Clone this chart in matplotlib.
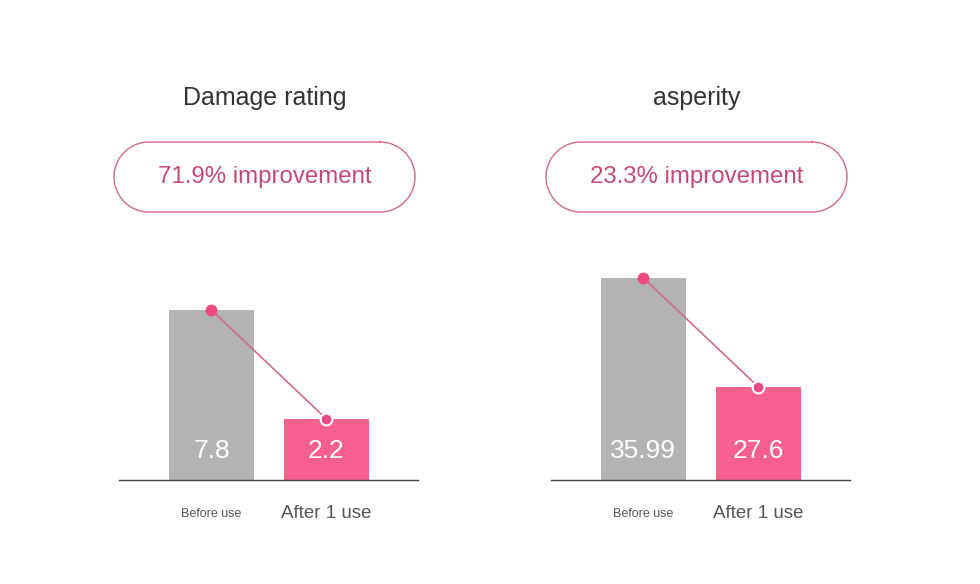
import numpy as np
import matplotlib.pyplot as plt

plt.rcParams['font.family'] = ['Liberation Sans', 'DejaVu Sans']

# --- datos ---
titles = ["Damage rating", "asperity"]
improvements = ["71.9% improvement", "23.3% improvement"]
categories = ["Before use", "After 1 use"]
before_values = [7.8, 35.99]
after_values = [2.2, 27.6]
value_labels = [["7.8", "2.2"], ["35.99", "27.6"]]
# valor en la linea base de cada panel (las barras no empiezan en cero)
axis_floor = [-0.935, 20.44]
px_per_unit = [19.46, 12.99]

# --- estilo ---
GRAY = '#b3b3b3'
PINK = '#f7608c'
DOT = '#f04a80'
LINE = '#cf6a88'
TEXT_PINK = '#c44a76'

W, H = 980, 584
fig = plt.figure(figsize=(W / 100, H / 100), dpi=100)

# capa de fondo en pixeles para titulos y pildoras
bg = fig.add_axes([0, 0, 1, 1])
bg.set_xlim(0, W)
bg.set_ylim(H, 0)
bg.axis('off')


def pill_outline(x0, y0, w, h):
    """Contorno de una pildora (rectangulo con extremos semicirculares)."""
    r = h / 2
    t = np.linspace(-np.pi / 2, np.pi / 2, 60)
    right_x = x0 + w - r + r * np.cos(t)
    right_y = y0 + r + r * np.sin(t)
    left_x = x0 + r - r * np.cos(t)
    left_y = y0 + r - r * np.sin(t)
    xs = np.concatenate([right_x, left_x, right_x[:1]])
    ys = np.concatenate([right_y, left_y, right_y[:1]])
    return xs, ys


panel_left = [119, 551]
panel_width = 299
base_y = 480
axes_h = 230
pill_left = [114, 546]

for i in range(2):
    cx = pill_left[i] + 150.5
    bg.text(cx, 98, titles[i], fontsize=18, color='#333333',
            ha='center', va='center')
    px, py = pill_outline(pill_left[i], 142, 301, 70)
    bg.plot(px, py, color='#d06a8a', lw=1.0)
    bg.text(cx, 177, improvements[i], fontsize=17.3, color=TEXT_PINK,
            ha='center', va='center')

    ax = fig.add_axes([panel_left[i] / W, (H - base_y) / H,
                       panel_width / W, axes_h / H])
    ax.patch.set_alpha(0)
    floor = axis_floor[i]
    ax.set_ylim(floor, floor + axes_h / px_per_unit[i])
    ax.set_xlim(-0.804, 1.796)

    vals = [before_values[i], after_values[i]]
    ax.bar([0, 1], [v - floor for v in vals], bottom=floor, width=0.739,
           color=[GRAY, PINK], zorder=2)
    ax.plot([0, 1], vals, color=LINE, lw=1.2, zorder=3)
    ax.plot(0, vals[0], 'o', ms=7.5, color=DOT, mec=DOT, zorder=4)
    ax.plot(1, vals[1], 'o', ms=8.5, color=DOT, mec='white', mew=1.5,
            zorder=4, clip_on=False)

    trans = ax.get_xaxis_transform()
    for j in range(2):
        ax.text(j, (base_y - 451) / axes_h, value_labels[i][j], transform=trans,
                fontsize=19, color='white', ha='center', va='center', zorder=5)
    ax.text(0, -34 / axes_h, categories[0], transform=trans, fontsize=9,
            color='#555555', ha='center', va='center')
    ax.text(1, -33 / axes_h, categories[1], transform=trans, fontsize=13.5,
            color='#555555', ha='center', va='center')

    for s in ['top', 'right', 'left']:
        ax.spines[s].set_visible(False)
    ax.spines['bottom'].set_color('#444444')
    ax.spines['bottom'].set_linewidth(1.0)
    ax.set_xticks([])
    ax.set_yticks([])

fig.savefig('out.png', dpi=100, facecolor='white')
